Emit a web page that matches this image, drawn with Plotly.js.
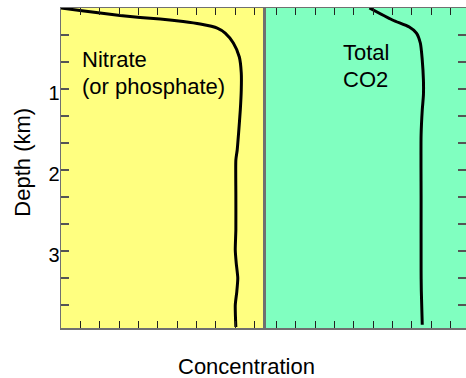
<!DOCTYPE html>
<html>
<head>
<meta charset="utf-8">
<script src="https://cdn.plot.ly/plotly-3.0.1.min.js"></script>
<style>
  html, body { margin: 0; padding: 0; background: #ffffff; }
  #chart { width: 466px; height: 378px; }
</style>
</head>
<body>
<div id="chart"></div>
<script>
// Nitrate (or phosphate) profile: concentration (arbitrary units) vs depth (km)
const nitrateDepth = [0, 0.031, 0.062, 0.093, 0.117, 0.136, 0.167, 0.198, 0.247, 0.309, 0.432, 0.605, 0.802, 1.012, 1.259, 1.55, 1.753, 1.877, 2.30, 2.741, 2.988, 3.15, 3.333, 3.50, 3.667, 3.938];
const nitrateConc  = [0, 0.98, 2.02, 3.05, 4.09, 5.12, 6.31, 7.19, 8.07, 8.48, 8.90, 9.21, 9.31, 9.31, 9.26, 9.17, 9.10, 9.03, 9.03, 9.03, 9.00, 9.05, 9.13, 9.08, 9.00, 9.03];

// Total CO2 profile
const co2Depth = [0, 0.148, 0.235, 0.309, 0.432, 0.642, 0.889, 1.074, 1.259, 1.568, 2.37, 3.235, 3.48, 3.91];
const co2Conc  = [5.41, 6.60, 7.47, 7.84, 8.04, 8.14, 8.20, 8.20, 8.14, 8.08, 8.08, 8.08, 8.09, 8.14];

// Depth ticks every third of a km, labelled at whole km
const depthTickVals = [1/3, 2/3, 1, 4/3, 5/3, 2, 7/3, 8/3, 3, 10/3, 11/3];
const depthTickText = ['', '', '1', '', '', '2', '', '', '3', '', ''];

// Panel labels
const panelLabels = ['Nitrate', '(or phosphate)', 'Total', 'CO2'];
const axisTitles = ['Depth (km)', 'Concentration'];

const FONT = 'Liberation Sans, Arial, Helvetica, sans-serif';
const yellow = '#ffff80';
const green = '#80ffc0';
const frame = '#707070';
const depthRange = [3.95, 0];

const traces = [
  { x: nitrateConc, y: nitrateDepth, xaxis: 'x', yaxis: 'y', type: 'scatter', mode: 'lines',
    line: { color: '#000000', width: 3, shape: 'spline', smoothing: 0.6 }, hoverinfo: 'skip' },
  { x: co2Conc, y: co2Depth, xaxis: 'x2', yaxis: 'y2', type: 'scatter', mode: 'lines',
    line: { color: '#000000', width: 3, shape: 'spline', smoothing: 0.7 }, hoverinfo: 'skip' }
];

const xCommon = {
  showgrid: false, zeroline: false, showticklabels: false,
  ticks: 'inside', ticklen: 7, tickwidth: 1, tickcolor: '#222222',
  showline: true, linecolor: frame, linewidth: 1.5, mirror: 'ticks',
  dtick: 1, fixedrange: true
};

const layout = {
  width: 466, height: 378,
  margin: { l: 61, r: 0, t: 8, b: 50 },
  paper_bgcolor: '#ffffff', plot_bgcolor: 'rgba(0,0,0,0)',
  showlegend: false,
  font: { family: FONT, size: 22, color: '#000000' },
  xaxis: Object.assign({}, xCommon, { domain: [0, 0.502], range: [0, 10.5], tick0: 0, anchor: 'y' }),
  xaxis2: Object.assign({}, xCommon, { domain: [0.503, 1], range: [0, 10.4], tick0: 0.6, anchor: 'y2' }),
  yaxis: {
    range: depthRange, anchor: 'x', showgrid: false, zeroline: false,
    tickmode: 'array', tickvals: depthTickVals, ticktext: depthTickText,
    ticks: 'inside', ticklen: 8, tickwidth: 1.5, tickcolor: '#555555',
    showline: true, linecolor: frame, linewidth: 1.5, mirror: true,
    ticklabelstandoff: -4, ticklabelshift: -4,
    tickfont: { family: FONT, size: 20, color: '#000000' }, fixedrange: true
  },
  yaxis2: {
    range: depthRange, anchor: 'x2', side: 'right', showgrid: false, zeroline: false,
    tickmode: 'array', tickvals: depthTickVals, ticktext: depthTickVals.map(() => ''),
    ticks: 'inside', ticklen: 8, tickwidth: 1.5, tickcolor: '#555555',
    showline: true, linecolor: frame, linewidth: 1.5, mirror: true,
    showticklabels: false, fixedrange: true
  },
  shapes: [
    { type: 'rect', xref: 'x domain', yref: 'y domain', x0: 0, x1: 1, y0: 0, y1: 1,
      fillcolor: yellow, line: { width: 0 }, layer: 'below' },
    { type: 'rect', xref: 'x2 domain', yref: 'y2 domain', x0: 0, x1: 1, y0: 0, y1: 1,
      fillcolor: green, line: { width: 0 }, layer: 'below' }
  ],
  annotations: [
    { text: panelLabels[0], xref: 'x', yref: 'y', x: 0.98, y: 0.64, xanchor: 'left', yanchor: 'middle',
      showarrow: false, font: { family: FONT, size: 22 } },
    { text: panelLabels[1], xref: 'x', yref: 'y', x: 0.98, y: 0.965, xanchor: 'left', yanchor: 'middle',
      showarrow: false, font: { family: FONT, size: 22 } },
    { text: panelLabels[2], xref: 'x2', yref: 'y2', x: 3.95, y: 0.555, xanchor: 'left', yanchor: 'middle',
      showarrow: false, font: { family: FONT, size: 22 } },
    { text: panelLabels[3], xref: 'x2', yref: 'y2', x: 3.95, y: 0.88, xanchor: 'left', yanchor: 'middle',
      showarrow: false, font: { family: FONT, size: 22 } },
    { text: axisTitles[0], xref: 'paper', yref: 'paper', x: -0.096, y: 0.517, xanchor: 'center', yanchor: 'middle',
      textangle: -90, showarrow: false, font: { family: FONT, size: 22 } },
    { text: axisTitles[1], xref: 'paper', yref: 'paper', x: 0.458, y: -0.12, xanchor: 'center', yanchor: 'middle',
      showarrow: false, font: { family: FONT, size: 22 } }
  ]
};

Plotly.newPlot('chart', traces, layout, { displayModeBar: false, staticPlot: true });
</script>
</body>
</html>
